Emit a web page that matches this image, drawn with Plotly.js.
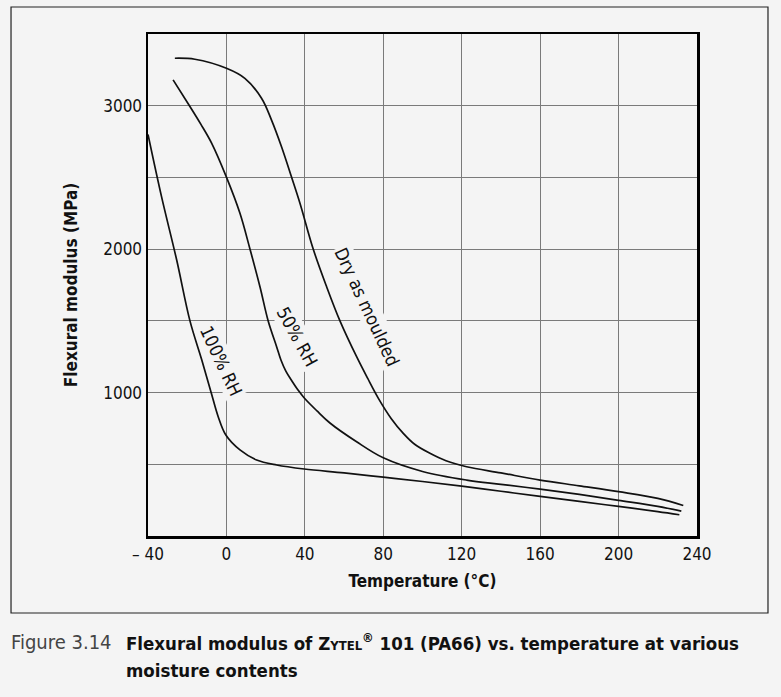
<!DOCTYPE html>
<html>
<head>
<meta charset="utf-8">
<script src="https://cdn.plot.ly/plotly-3.0.1.min.js"></script>
<style>
html,body{margin:0;padding:0;background:#f4f4f4;}
#chart{width:781px;height:697px;}
</style>
</head>
<body>
<div id="chart"></div>
<script>
// Data
var dryX = [-26.3, -16.1, 0, 9.4, 17.9, 23, 28.1, 33.2, 37.5, 44.3, 51.1, 57.9, 66.4, 72, 77.5, 84, 90.2, 96, 103.8, 112, 122.5, 140, 160, 180, 200, 220, 233];
var dryY = [3331, 3324, 3261, 3191, 3052, 2900, 2714, 2503, 2320, 1999, 1738, 1500, 1250, 1100, 960, 820, 716, 640, 577, 525, 483, 440, 390, 350, 309, 262, 213];

var rh50X = [-27.2, -19.5, -13, -7.5, 0, 6.9, 12, 17.1, 21.3, 25.6, 27.8, 30.3, 33.4, 36.5, 39.7, 46.2, 52.8, 66.4, 80, 100, 122.5, 140, 160, 180, 200, 220, 232];
var rh50Y = [3180, 3014, 2870, 2738, 2502, 2250, 2001, 1738, 1499, 1320, 1227, 1150, 1081, 1018, 962, 872, 788, 657, 545, 450, 390, 360, 327, 290, 249, 207, 173];

var rh100X = [-40, -33.1, -25.4, -18.6, -12.6, -7.8, -4.2, -0.3, 6.9, 15.4, 25.6, 39.7, 60, 80, 100, 120, 140, 160, 180, 200, 220, 231];
var rh100Y = [2800, 2366, 1926, 1500, 1229, 1001, 832, 704, 600, 530, 495, 467, 440, 410, 380, 348, 312, 276, 242, 206, 170, 148];

var seriesNames = ['Dry as moulded', '50% RH', '100% RH'];

var xTickVals = [-40, 0, 40, 80, 120, 160, 200, 240];
var xTickText = ['\u2013 40', '0', '40', '80', '120', '160', '200', '240'];
var yTickVals = [500, 1000, 1500, 2000, 2500, 3000];
var yTickText = ['', '1000', '', '2000', '', '3000'];

var FONT = '"Liberation Sans Narrow", "DejaVu Sans Condensed", "Roboto", sans-serif';
var BG = '#f4f4f4';

function curve(x, y, name) {
  return {x: x, y: y, name: name, type: 'scatter', mode: 'lines',
    line: {color: '#111111', width: 1.7, shape: 'spline', smoothing: 1},
    hoverinfo: 'skip', showlegend: false};
}

var data = [curve(dryX, dryY, seriesNames[0]), curve(rh50X, rh50Y, seriesNames[1]), curve(rh100X, rh100Y, seriesNames[2])];

var layout = {
  width: 781, height: 697,
  paper_bgcolor: BG, plot_bgcolor: BG,
  margin: {l: 148, r: 84, t: 34, b: 161},
  font: {family: FONT, color: '#111111'},
  showlegend: false,
  xaxis: {
    range: [-40, 240], tickvals: xTickVals, ticktext: xTickText,
    showgrid: true, gridcolor: '#7a7a7a', gridwidth: 1,
    zeroline: false, showline: true, linecolor: '#000000', linewidth: 2.5, mirror: true,
    ticks: '', tickfont: {size: 17, family: FONT, color: '#111111'},
    ticklabelstandoff: 1,
    title: {text: '<b>Temperature (°C)</b>', font: {size: 17, family: FONT, color: '#111111'}, standoff: 12}
  },
  yaxis: {
    range: [0, 3500], tickvals: yTickVals, ticktext: yTickText,
    showgrid: true, gridcolor: '#7a7a7a', gridwidth: 1,
    zeroline: false, showline: true, linecolor: '#000000', linewidth: 2.5, mirror: true,
    ticks: '', tickfont: {size: 17, family: FONT, color: '#111111'},
    ticklabelstandoff: 0,
    title: {text: '<b>Flexural modulus (MPa)</b>', font: {size: 17, family: FONT, color: '#111111'}, standoff: 21}
  },
  shapes: [
    {type: 'rect', xref: 'paper', yref: 'paper', x0: -0.2495, x1: 1.1293, y0: -0.1534, y1: 1.0538,
     line: {color: '#222222', width: 1.2}, fillcolor: 'rgba(0,0,0,0)', layer: 'below'}
  ],
  annotations: [
    {x: 71.6, y: 1599, xref: 'x', yref: 'y', text: seriesNames[0], showarrow: false, textangle: 65,
     font: {size: 18, family: FONT, color: '#111111'}, bgcolor: BG, borderpad: 1},
    {x: 36.5, y: 1387, xref: 'x', yref: 'y', text: seriesNames[1], showarrow: false, textangle: 61,
     font: {size: 18, family: FONT, color: '#111111'}, bgcolor: BG, borderpad: 1},
    {x: -2.4, y: 1220, xref: 'x', yref: 'y', text: seriesNames[2], showarrow: false, textangle: 65,
     font: {size: 18, family: FONT, color: '#111111'}, bgcolor: BG, borderpad: 1},
    {x: -0.2532, y: -0.211, xref: 'paper', yref: 'paper', xanchor: 'left', yanchor: 'middle', showarrow: false,
     text: 'Figure 3.14', font: {size: 20, family: FONT, color: '#444444'}},
    {x: -0.0437, y: -0.211, xref: 'paper', yref: 'paper', xanchor: 'left', yanchor: 'middle', showarrow: false,
     text: '<b>Flexural modulus of Z<span style="font-size:13px">YTEL</span><sup>®</sup> 101 (PA66) vs. temperature at various</b>',
     font: {size: 18.5, family: FONT, color: '#111111'}},
    {x: -0.0437, y: -0.267, xref: 'paper', yref: 'paper', xanchor: 'left', yanchor: 'middle', showarrow: false,
     text: '<b>moisture contents</b>', font: {size: 18.5, family: FONT, color: '#111111'}}
  ]
};

Plotly.newPlot('chart', data, layout, {staticPlot: true, displayModeBar: false});
</script>
</body>
</html>
